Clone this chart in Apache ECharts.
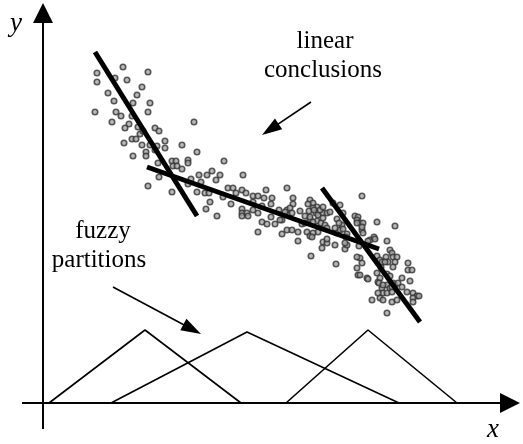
<!DOCTYPE html>
<html><head><meta charset="utf-8">
<script src="https://cdn.jsdelivr.net/npm/echarts@6/dist/echarts.min.js"></script>
<style>html,body{margin:0;padding:0;background:#fff}#c{width:523px;height:444px}</style>
</head><body><div id="c"></div>
<script>
// Scatter samples (x, y) in chart units: origin at the axis crossing, y upwards
const samples = [
[54,330],[54,321],[80,336],[105,331],[84,323],[72,325],[99,316],[65,310],[94,308],[71,302],
[90,300],[107,300],[52,291],[73,291],[78,287],[105,291],[89,287],[69,281],[86,279],[95,276],
[82,275],[112,275],[116,272],[97,269],[100,272],[89,264],[93,264],[122,262],[81,260],[151,281],
[139,258],[99,258],
[90,247],[103,251],[103,247],[107,258],[114,257],[112,253],[122,255],[154,251],[115,240],[129,242],
[133,242],[145,243],[145,240],[130,237],[134,237],[139,234],[181,242],[105,217],[116,226],[129,211],
[148,224],[156,228],[164,228],[169,232],[173,223],[177,228],[158,221],[145,219],[154,211],[162,210],
[166,210],[167,201],[163,194],[174,187],[185,215],[190,215],[193,210],[180,206],[188,199],[200,228],
[199,213],[203,210],[210,207],[215,207],[223,213],[244,215],[221,205],[229,205],[210,201],[228,199],
[250,205],[250,199],[267,203],[270,200],[265,199],[274,196],[270,195],[199,194],[199,190],[199,187],
[204,190],[205,187],[210,193],[215,190],[219,197],[236,193],[244,193],[247,195],[257,192],[266,192],
[273,190],[275,188],[280,190],[219,181],[228,186],[224,179],[232,179],[239,183],[245,188],[249,190],
[262,187],[267,184],[274,182],[278,180],[259,179],[244,173],[249,173],[255,171],[215,171],[239,169],
[264,171],[267,167],[275,171],
[242,191],[237,183],[255,162],[277,193],[280,196],[284,190],[287,191],[290,200],[297,198],[319,207],
[334,181],[352,177],[262,180],[270,170],[269,166],[280,161],[279,155],[284,160],[292,158],[302,154],
[304,158],[294,170],[297,173],[299,178],[312,187],[315,186],[314,183],[317,180],[320,180],[319,173],
[320,170],[327,163],[331,166],[332,164],[344,162],[347,153],[349,150],[350,146],[354,146],[352,141],
[334,147],[337,143],[338,136],[343,146],[345,141],[317,145],[319,140],[314,135],[315,128],[293,139],
[268,147],[324,125],[334,130],[335,121],[337,125],[344,118],[347,115],[352,118],[339,115],[340,110],
[344,110],[365,133],[365,140],[369,133],[367,122],[370,110],[374,107],[370,105],[376,107],[370,101],
[329,103],[337,105],[349,101],[354,103],[344,90],
[271,193],[300,190],[267,186],[270,181],[280,185],[282,178],[284,175],[294,184],[296,180],[292,175],
[300,174],[314,180],[319,176],[304,169],[303,166],[284,164],[302,160],[325,162],[316,157],
[314,146],[317,128],[325,124],[336,120],[339,141],[342,141],[350,136],[344,129],[347,127],[340,118],
[350,120],[349,116],[359,125],[355,120],[359,116],[364,111],[349,111],[335,110],[340,103]
];

// Linear conclusions: start and end of each fitted segment
const conclusionLines = [
  [[52,351],[154,187]],
  [[104,236],[336,154]],
  [[279,215],[377,81]]
];

// Fuzzy partitions: triangular membership functions (left foot, peak, right foot)
const partitions = [
  [[6,0],[102,73],[198,0]],
  [[68,0],[204,71],[356,0]],
  [[243,0],[325,73],[414,0]]
];

// Axes drawn as arrows: [x1, y1, x2(tip), y2(tip)]
const axisArrows = [[0,-26,0,400],[-21,0,477,0]];
// Pointer arrows from labels
const pointerArrows = [[268,301,219,268],[70,116,158,69]];

const labelTexts = ['linear', 'conclusions', 'fuzzy', 'partitions'];
const axisNames = ['x', 'y'];

function arrowRender(headLen, headW, lw) {
  return function (params, api) {
    const a = api.coord([api.value(0), api.value(1)]);
    const b = api.coord([api.value(2), api.value(3)]);
    const dx = b[0] - a[0], dy = b[1] - a[1];
    const L = Math.hypot(dx, dy), ux = dx / L, uy = dy / L;
    const bx = b[0] - ux * headLen, by = b[1] - uy * headLen;
    const px = -uy * headW / 2, py = ux * headW / 2;
    return {
      type: 'group',
      children: [
        { type: 'line', shape: { x1: a[0], y1: a[1], x2: bx + ux * 2, y2: by + uy * 2 },
          style: { stroke: '#000', lineWidth: lw } },
        { type: 'polygon', shape: { points: [[b[0], b[1]], [bx + px, by + py], [bx - px, by - py]] },
          style: { fill: '#000' } }
      ]
    };
  };
}

const serif = '"Liberation Serif", "Times New Roman", serif';
const series = [];

partitions.forEach(function (tri) {
  series.push({ type: 'line', data: tri, symbol: 'none', silent: true, clip: false,
    lineStyle: { color: '#000', width: 1.6 }, z: 2 });
});

series.push({
  type: 'custom', renderItem: arrowRender(20, 20, 2), data: axisArrows,
  encode: { x: [0, 2], y: [1, 3] }, clip: false, silent: true, z: 3
});

series.push({
  type: 'scatter', data: samples, symbol: 'circle', symbolSize: 5.5, silent: true,
  itemStyle: { color: '#a8a8a8', borderColor: '#333', borderWidth: 1.6 }, z: 4
});

conclusionLines.forEach(function (seg) {
  series.push({ type: 'line', data: seg, symbol: 'none', silent: true, clip: false,
    lineStyle: { color: '#000', width: 5 }, z: 5 });
});

series.push({
  type: 'custom', renderItem: arrowRender(20, 13, 1.6), data: pointerArrows,
  encode: { x: [0, 2], y: [1, 3] }, clip: false, silent: true, z: 6
});

const chart = echarts.init(document.getElementById('c'), null, { renderer: 'canvas' });
chart.setOption({
  animation: false,
  backgroundColor: '#fff',
  grid: { left: 0, right: 0, top: 0, bottom: 0 },
  xAxis: { type: 'value', min: -43, max: 480, show: false },
  yAxis: { type: 'value', min: -41, max: 403, show: false },
  series: series,
  graphic: [
    { type: 'text', x: 325, y: 41, style: { text: labelTexts[0], font: '25px ' + serif, fill: '#000', align: 'center', verticalAlign: 'middle' } },
    { type: 'text', x: 323, y: 70, style: { text: labelTexts[1], font: '25px ' + serif, fill: '#000', align: 'center', verticalAlign: 'middle' } },
    { type: 'text', x: 103, y: 231, style: { text: labelTexts[2], font: '25px ' + serif, fill: '#000', align: 'center', verticalAlign: 'middle' } },
    { type: 'text', x: 99, y: 260, style: { text: labelTexts[3], font: '25px ' + serif, fill: '#000', align: 'center', verticalAlign: 'middle' } },
    { type: 'text', x: 493, y: 430, style: { text: axisNames[0], font: 'italic 27px ' + serif, fill: '#000', align: 'center', verticalAlign: 'middle' } },
    { type: 'text', x: 16, y: 24, style: { text: axisNames[1], font: 'italic 27px ' + serif, fill: '#000', align: 'center', verticalAlign: 'middle' } }
  ]
});
</script>
</body></html>
